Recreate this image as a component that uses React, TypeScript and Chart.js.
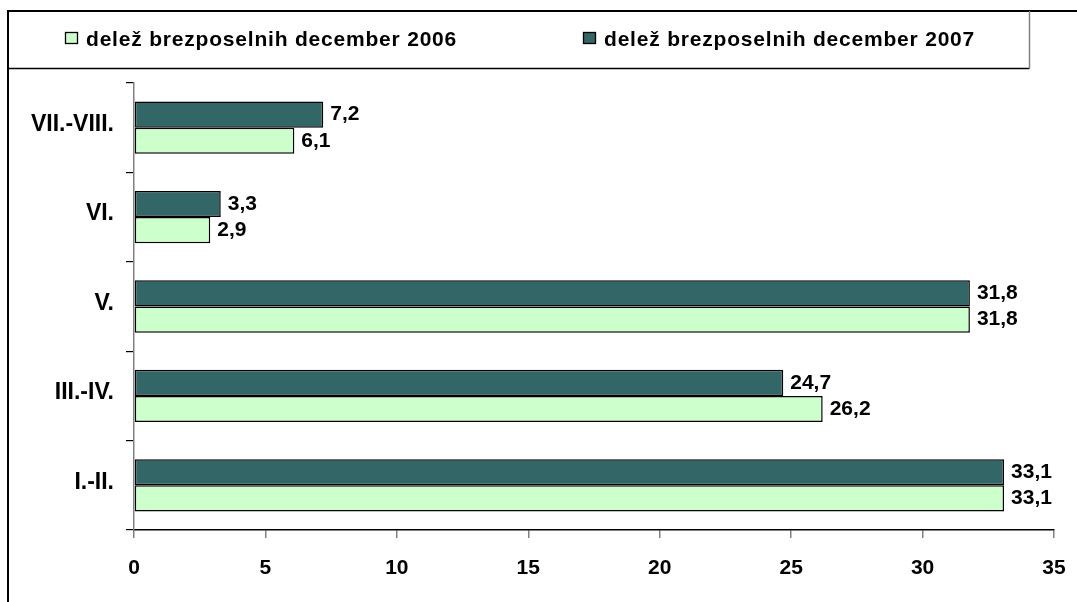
import React, { useEffect, useRef } from 'react';
import { Chart, registerables } from 'chart.js';

Chart.register(...registerables);

const categories = ['VII.-VIII.', 'VI.', 'V.', 'III.-IV.', 'I.-II.'];
const series2006 = [6.1, 2.9, 31.8, 26.2, 33.1];
const series2007 = [7.2, 3.3, 31.8, 24.7, 33.1];
const seriesLabels = ['delež brezposelnih december 2006', 'delež brezposelnih december 2007'];
const xMin = 0;
const xMax = 35;
const xStep = 5;

const FONT = '"Liberation Sans", Arial, Helvetica, sans-serif';
const LIGHT = '#CCFFCC';
const DARK = '#336666';

const fmt = (v: number) => v.toFixed(1).replace('.', ',');

const framePlugin = {
  id: 'frame',
  beforeDraw(chart: any) {
    const ctx = chart.ctx as CanvasRenderingContext2D;
    ctx.save();
    ctx.fillStyle = '#ffffff';
    ctx.fillRect(0, 0, chart.width, chart.height);
    ctx.strokeStyle = '#000';
    ctx.lineWidth = 2;
    ctx.beginPath();
    ctx.moveTo(8, chart.height);
    ctx.lineTo(8, 11);
    ctx.lineTo(chart.width, 11);
    ctx.stroke();
    ctx.lineWidth = 1.5;
    ctx.beginPath();
    ctx.moveTo(8, 68.5);
    ctx.lineTo(1029.5, 68.5);
    ctx.stroke();
    ctx.strokeStyle = '#808080';
    ctx.lineWidth = 1.5;
    ctx.beginPath();
    ctx.moveTo(1029.5, 11);
    ctx.lineTo(1029.5, 68.5);
    ctx.stroke();

    const items = [
      { label: seriesLabels[0], color: LIGHT, x: 65 },
      { label: seriesLabels[1], color: DARK, x: 583 },
    ];
    ctx.font = `bold 21px ${FONT}`;
    (ctx as any).letterSpacing = '0.8px';
    ctx.textBaseline = 'alphabetic';
    ctx.textAlign = 'left';
    for (const it of items) {
      ctx.fillStyle = it.color;
      ctx.fillRect(it.x, 32, 13, 12);
      ctx.strokeStyle = '#000';
      ctx.lineWidth = 1.3;
      ctx.strokeRect(it.x + 0.5, 32.5, 12, 11);
      ctx.fillStyle = '#000';
      ctx.fillText(it.label, it.x + 21, 46);
    }
    (ctx as any).letterSpacing = '0px';
    ctx.restore();
  },
};

const valueLabelPlugin = {
  id: 'valueLabels',
  afterDatasetsDraw(chart: any) {
    const ctx = chart.ctx as CanvasRenderingContext2D;
    ctx.save();
    ctx.font = `bold 21px ${FONT}`;
    ctx.fillStyle = '#000';
    ctx.textAlign = 'left';
    ctx.textBaseline = 'middle';
    chart.data.datasets.forEach((ds: any, di: number) => {
      const meta = chart.getDatasetMeta(di);
      meta.data.forEach((bar: any, i: number) => {
        ctx.fillText(fmt(ds.data[i]), bar.x + 7, bar.y);
      });
    });
    ctx.restore();
  },
};

export default function App() {
  const ref = useRef<HTMLCanvasElement | null>(null);

  useEffect(() => {
    if (!ref.current) return;
    const chart = new Chart(ref.current, {
      type: 'bar',
      data: {
        labels: categories,
        datasets: [
          {
            label: seriesLabels[1],
            data: series2007,
            backgroundColor: DARK,
            borderColor: '#000',
            borderWidth: 1.5,
            borderSkipped: false,
            categoryPercentage: 0.585,
            barPercentage: 1,
          },
          {
            label: seriesLabels[0],
            data: series2006,
            backgroundColor: LIGHT,
            borderColor: '#000',
            borderWidth: 1.5,
            borderSkipped: false,
            categoryPercentage: 0.585,
            barPercentage: 1,
          },
        ],
      },
      options: {
        indexAxis: 'y',
        responsive: false,
        maintainAspectRatio: false,
        animation: false,
        devicePixelRatio: 1,
        layout: { padding: { left: 0, right: 23, top: 83, bottom: 0 } },
        plugins: {
          legend: { display: false },
          tooltip: { enabled: false },
        },
        scales: {
          x: {
            type: 'linear',
            min: xMin,
            max: xMax,
            ticks: {
              stepSize: xStep,
              color: '#000',
              font: { family: FONT, size: 21, weight: 'bold' },
              padding: 18,
            },
            grid: {
              drawOnChartArea: false,
              drawTicks: true,
              tickLength: 8,
              color: '#808080',
              lineWidth: 1.5,
            },
            border: { display: true, color: '#000', width: 1.5 },
            afterFit: (s: any) => {
              s.height = 72;
              s.paddingLeft = 0;
              s.paddingRight = 0;
            },
          },
          y: {
            type: 'category',
            ticks: {
              color: '#000',
              font: { family: FONT, size: 23, weight: 'bold' },
              padding: 12,
              labelOffset: -3,
            },
            grid: {
              offset: true,
              drawOnChartArea: false,
              drawTicks: true,
              tickLength: 8,
              color: '#000',
              lineWidth: 1.2,
            },
            border: { display: true, color: '#808080', width: 1.5 },
            afterFit: (s: any) => {
              s.width = 134;
            },
          },
        },
      },
      plugins: [framePlugin, valueLabelPlugin],
    } as any);
    return () => chart.destroy();
  }, []);

  return (
    <div style={{ position: 'absolute', left: 0, top: 0, width: 1077, height: 602, background: '#fff' }}>
      <canvas ref={ref} width={1077} height={602} style={{ width: 1077, height: 602, display: 'block' }} />
    </div>
  );
}
